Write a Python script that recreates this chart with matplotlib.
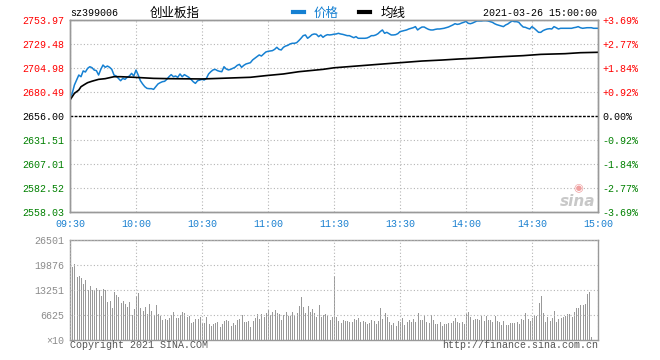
import numpy as np
import matplotlib
matplotlib.use("Agg")
import matplotlib.pyplot as plt

plt.rcParams['font.family'] = ['Liberation Mono', 'DejaVu Sans Mono']

# 創业板指 intraday, 2021-03-26, one value per minute (09:30 .. 15:00)
prev_close = 2656.00

price = [
    2675.1, 2679.0, 2687.6, 2692.7, 2697.8, 2696.1, 2702.0, 2700.9, 2704.6, 2706.3,
    2705.3, 2702.9, 2702.3, 2697.8, 2703.6, 2708.0, 2705.7, 2707.0, 2705.7, 2703.6,
    2697.8, 2696.8, 2694.4, 2692.0, 2694.4, 2693.4, 2695.5, 2696.8, 2699.5, 2696.8,
    2702.9, 2697.8, 2692.0, 2688.7, 2685.9, 2684.2, 2683.9, 2683.9, 2683.2, 2685.9,
    2688.7, 2690.0, 2691.0, 2691.4, 2693.4, 2696.1, 2698.2, 2696.1, 2696.8, 2695.5,
    2698.9, 2696.1, 2698.2, 2696.8, 2695.5, 2693.4, 2691.0, 2689.3, 2692.0, 2692.7,
    2693.4, 2692.7, 2694.4, 2698.9, 2701.2, 2703.0, 2703.6, 2702.3, 2701.6, 2701.2,
    2706.3, 2704.0, 2703.0, 2703.6, 2704.6, 2705.7, 2707.7, 2708.7, 2705.7, 2707.7,
    2709.1, 2709.8, 2710.4, 2713.2, 2714.9, 2716.6, 2718.3, 2717.2, 2719.3, 2721.3,
    2722.0, 2722.3, 2722.7, 2724.0, 2726.1, 2724.0, 2723.4, 2726.1, 2727.4, 2728.1,
    2729.5, 2730.2, 2730.2, 2730.8, 2732.9, 2735.3, 2738.0, 2738.7, 2735.3, 2737.0,
    2739.0, 2739.7, 2739.4, 2737.0, 2738.7, 2736.3, 2738.0, 2739.0, 2738.7, 2739.0,
    2739.5, 2739.7, 2740.4, 2739.7, 2739.3, 2738.7, 2738.0, 2738.0, 2737.0, 2735.9,
    2737.0, 2735.3, 2735.3, 2735.3, 2735.3, 2735.6, 2736.6, 2738.0, 2738.0, 2738.7,
    2740.0, 2742.1, 2743.8, 2740.4, 2741.4, 2740.0, 2738.7, 2738.7, 2739.0, 2740.0,
    2742.1, 2742.7, 2743.4, 2743.8, 2744.8, 2745.5, 2746.1, 2747.2, 2743.8, 2745.5,
    2746.8, 2746.8, 2745.5, 2744.4, 2743.8, 2743.8, 2744.4, 2744.8, 2744.8, 2745.1,
    2745.5, 2746.1, 2746.8, 2747.8, 2748.9, 2750.2, 2749.5, 2749.9, 2750.9, 2751.6,
    2752.6, 2750.6, 2750.2, 2750.9, 2751.9, 2753.0, 2753.0, 2753.0, 2753.3, 2753.3,
    2753.0, 2752.3, 2751.6, 2750.2, 2749.2, 2748.5, 2747.8, 2747.2, 2748.9, 2749.9,
    2751.6, 2753.0, 2752.3, 2752.3, 2751.6, 2748.9, 2746.8, 2746.5, 2745.5, 2744.8,
    2747.2, 2745.5, 2743.4, 2741.4, 2741.4, 2743.1, 2744.1, 2744.8, 2745.1, 2744.8,
    2747.2, 2746.1, 2744.8, 2745.5, 2745.5, 2745.5, 2745.5, 2745.5, 2745.5, 2746.1,
    2746.5, 2747.2, 2746.1, 2745.5, 2745.8, 2746.1, 2746.1, 2746.1, 2745.5, 2745.5,
    2745.5,
]

# average line (均线), read at its turning points
avg_minute = [0, 2, 4, 5, 7, 8, 10, 13, 16, 20, 23, 29, 38, 45, 60, 68, 82, 89,
              97, 104, 115, 120, 140, 150, 160, 169, 177, 183, 188, 196, 206,
              214, 225, 232, 240]
avg_price = [2672.3, 2679.1, 2682.5, 2685.9, 2688.7, 2690.0, 2691.5, 2693.4,
             2694.1, 2696.1, 2696.1, 2695.5, 2694.4, 2694.1, 2693.8, 2694.4,
             2695.5, 2697.2, 2698.9, 2701.2, 2703.6, 2705.2, 2708.7, 2710.4,
             2712.1, 2713.1, 2714.2, 2714.8, 2715.5, 2716.5, 2717.6, 2718.9,
             2719.6, 2720.6, 2721.0]

# volume (x10), one bar per minute
volume = [
    26501, 19435, 20053, 16696, 16961, 16343, 14841, 15901, 13251, 14311,
    13251, 12986, 13693, 13251, 11661, 13516, 13251, 9982, 10336, 8569,
    12633, 11926, 11308, 9717, 10336, 9541, 8657, 9982, 6626, 8216,
    11661, 12456, 8569, 7686, 8746, 6802, 9541, 7686, 6626, 9276,
    6802, 6449, 5300, 5565, 5300, 5919, 6626, 7332, 5919, 5919,
    6626, 7332, 7067, 6095, 6449, 4417, 4682, 5565, 5565, 6007,
    4417, 4594, 6095, 4240, 3622, 4240, 4505, 4682, 3445, 4152,
    5035, 5300, 5035, 3710, 4417, 3975, 5300, 5565, 6626, 4859,
    4859, 5035, 3445, 5035, 5742, 6891, 5565, 6891, 6095, 7067,
    7951, 6626, 7509, 7951, 7067, 6802, 5300, 6626, 7509, 6449,
    6449, 7509, 6449, 7067, 9099, 11484, 8834, 7067, 9099, 7332,
    8216, 7067, 6184, 9276, 6184, 6626, 6802, 6449, 5300, 6184,
    17050, 6184, 5035, 4417, 5300, 5035, 5035, 4859, 4859, 5565,
    5300, 5919, 4859, 5035, 4859, 4240, 4505, 5300, 5035, 4240,
    5035, 8569, 5565, 7067, 6184, 4859, 3975, 4505, 3799, 5035,
    4859, 5919, 3975, 4859, 5300, 4859, 5565, 4859, 7067, 5300,
    5300, 6360, 4859, 4594, 6626, 5300, 4240, 4240, 4682, 3710,
    4240, 4240, 4417, 4417, 5035, 5742, 4682, 4417, 4859, 4240,
    6802, 7332, 6095, 5300, 5565, 5565, 5300, 6449, 5035, 6449,
    5300, 5300, 4859, 6449, 5035, 4682, 4064, 5035, 3975, 3975,
    4505, 4505, 4505, 4682, 4240, 5477, 5300, 7067, 5565, 5035,
    5919, 6626, 6449, 9717, 11749, 7067, 4859, 6184, 5035, 5919,
    7686, 4859, 5565, 5742, 6095, 6449, 6802, 6802, 6184, 7332,
    8392, 8392, 9276, 9276, 9452, 12103, 12633, 883, 0, 0,
    0,
]

price_levels = [2558.03, 2582.52, 2607.01, 2631.51, 2656.00,
                2680.49, 2704.98, 2729.48, 2753.97]
pct_labels = ['-3.69%', '-2.77%', '-1.84%', '-0.92%', '0.00%',
              '+0.92%', '+1.84%', '+2.77%', '+3.69%']
time_ticks = [0, 30, 60, 90, 120, 150, 180, 210, 240]
time_labels = ['09:30', '10:00', '10:30', '11:00', '11:30',
               '13:30', '14:00', '14:30', '15:00']
vol_ticks = [0, 6625, 13251, 19876, 26501]
vol_labels = ['\u00d710', '6625', '13251', '19876', '26501']

RED, GREEN, BLUE, GRAY = '#ff0000', '#008000', '#1a80d0', '#999999'
level_colors = [GREEN] * 4 + ['black'] + [RED] * 4
minutes = np.arange(len(price))

fig = plt.figure(figsize=(6.6, 3.6), dpi=100)
ax = fig.add_axes([70/660, 1 - 212/360, 528/660, 192/360])
axv = fig.add_axes([70/660, 1 - 340/360, 528/660, 100/360])

# price panel
l_price, = ax.plot(minutes, price, color='#1580d2', lw=1.1, zorder=3)
l_avg, = ax.plot(avg_minute, avg_price, color='black', lw=1.2, zorder=3)
ax.axhline(prev_close, color='black', lw=1, ls=(0, (2, 1)), zorder=2)
ax.set_xlim(0, 240)
ax.set_ylim(price_levels[0], price_levels[-1])
ax.set_yticks(price_levels)
ax.set_yticklabels(['%.2f' % v for v in price_levels])
for lbl, c in zip(ax.get_yticklabels(), level_colors):
    lbl.set_color(c)
ax.set_xticks(time_ticks)
ax.set_xticklabels(time_labels, color=BLUE)
ax.tick_params(length=0, labelsize=7.2, pad=4)
ax.tick_params(axis='x', pad=5)
ax.grid(True, color='#b4b4b4', lw=0.8, ls=(0, (1, 2)))
ax.yaxis.get_gridlines()[4].set_visible(False)

ax2 = ax.twinx()
ax2.set_ylim(ax.get_ylim())
ax2.set_yticks(price_levels)
ax2.set_yticklabels(pct_labels)
for lbl, c in zip(ax2.get_yticklabels(), level_colors):
    lbl.set_color(c)
ax2.tick_params(length=0, labelsize=7.2, pad=3)

for a in (ax, ax2, axv):
    for s in a.spines.values():
        s.set_color(GRAY)
        s.set_linewidth(1)

# sina watermark
ax.text(0.962, 0.125, '\u25c9', transform=ax.transAxes, color='#f0a0a0',
        fontsize=8, ha='center', va='center', family='DejaVu Sans')
ax.text(0.962, 0.055, 'sina', transform=ax.transAxes, color='#c8c8c8',
        fontsize=11, ha='center', va='center', style='italic',
        weight='bold', family='DejaVu Sans')

# volume panel
axv.bar(minutes, volume, width=0.45, align='edge', color='#999999', lw=0)
axv.set_xlim(0, 240)
axv.set_ylim(0, vol_ticks[-1])
axv.set_xticks(time_ticks)
axv.set_xticklabels([])
axv.set_yticks(vol_ticks)
axv.set_yticklabels(vol_labels, color='#8c8c8c')
axv.tick_params(length=0, labelsize=7.2, pad=4)
axv.grid(True, color='#b4b4b4', lw=0.8, ls=(0, (1, 2)))
axv.set_axisbelow(False)

# header texts
fig.text(70/660, 1 - 13/360, 'sz399006', fontsize=7.2, va='center', ha='left')
fig.text(150/660, 1 - 13/360, '创业板指', fontsize=9,
         family=['Noto Sans CJK SC'], va='center', ha='left')
fig.text(597/660, 1 - 13/360, '2021-03-26 15:00:00', fontsize=7.2,
         va='center', ha='right')
leg = fig.legend([l_price, l_avg], ['价格', '均线'], ncol=2, frameon=False,
                 loc='center', bbox_to_anchor=(349/660, 1 - 13/360),
                 handlelength=0.9, handletextpad=0.8, columnspacing=1.6,
                 prop={'family': 'Noto Sans CJK SC', 'size': 9})
for h in leg.legend_handles:
    h.set_linewidth(3)
leg.get_texts()[0].set_color('#1580d2')

# footer texts
fig.text(70/660, 1 - 345/360, 'Copyright 2021 SINA.COM', fontsize=7.2,
         color='#555555', va='center', ha='left')
fig.text(598/660, 1 - 345/360, 'http://finance.sina.com.cn', fontsize=7.2,
         color='#555555', va='center', ha='right')

fig.savefig('out.png', dpi=100)
